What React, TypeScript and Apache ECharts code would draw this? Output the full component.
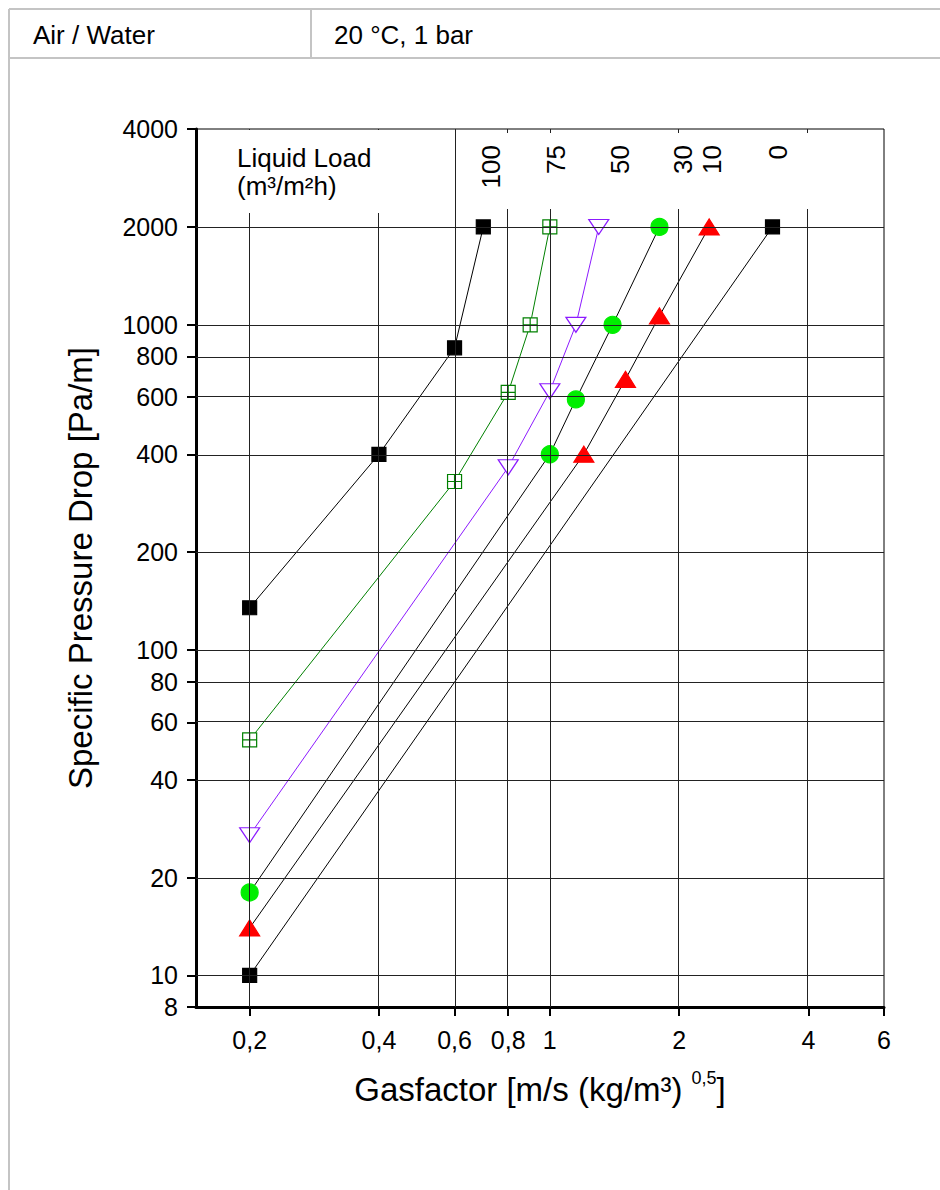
import React, { useEffect, useRef } from 'react';
import * as echarts from 'echarts';

// ---- axis ticks / ranges ----
const X_TICKS = [0.2, 0.4, 0.6, 0.8, 1, 2, 4, 6];
const Y_TICKS = [8, 10, 20, 40, 60, 80, 100, 200, 400, 600, 800, 1000, 2000, 4000];
const X_GRID = [0.2, 0.4, 0.6, 0.8, 1, 2, 4];
const Y_GRID = [10, 20, 40, 60, 80, 100, 200, 400, 600, 800, 1000, 2000];
const X_RANGE = [0.15, 6];
const Y_RANGE = [8, 4000];

// ---- series (liquid load in m³/m²h) ----
const LOADS = ['100', '75', '50', '30', '10', '0'];
const L100_X = [0.2, 0.4, 0.6, 0.7];
const L100_Y = [135, 400, 850, 2000];
const L75_X = [0.2, 0.6, 0.8, 0.9, 1.0];
const L75_Y = [53, 330, 620, 1000, 2000];
const L50_X = [0.2, 0.8, 1.0, 1.15, 1.3];
const L50_Y = [27, 365, 625, 1000, 2000];
const L30_X = [0.2, 1.0, 1.15, 1.4, 1.8];
const L30_Y = [18, 400, 590, 1000, 2000];
const L10_X = [0.2, 1.2, 1.5, 1.8, 2.35];
const L10_Y = [14, 400, 680, 1065, 2000];
const L0_X = [0.2, 3.3];
const L0_Y = [10, 2000];

const SERIES_X = [L100_X, L75_X, L50_X, L30_X, L10_X, L0_X];
const SERIES_Y = [L100_Y, L75_Y, L50_Y, L30_Y, L10_Y, L0_Y];

// ---- styling (not data) ----
const SANS = '"Liberation Sans", Arial, sans-serif';
const STYLES = [
  { line: '#000', symbol: 'rect', size: 14, fill: '#000', border: '#000', rotate: 0 },
  { line: '#008000', symbol: 'path://M0,0L10,0L10,10L0,10Z M5,0L5,10 M0,5L10,5', size: 14, fill: '#fff', border: '#008000', rotate: 0 },
  { line: '#8c1aff', symbol: 'triangle', size: [20, 15], fill: '#fff', border: '#8c1aff', rotate: 180 },
  { line: '#000', symbol: 'circle', size: 17, fill: '#00ee00', border: '#00ee00', rotate: 0 },
  { line: '#000', symbol: 'triangle', size: [20, 16], fill: '#ff0000', border: '#ff0000', rotate: 0 },
  { line: '#000', symbol: 'rect', size: 14, fill: '#000', border: '#000', rotate: 0 },
];
const LABEL_POS = [
  { x: 491, y: 145 },
  { x: 556, y: 145 },
  { x: 620, y: 145 },
  { x: 683, y: 145 },
  { x: 712, y: 145 },
  { x: 778, y: 145 },
];

const lg = (v: number) => Math.log10(v);
const fmt = (v: number) => {
  const r = Math.round(Math.pow(10, v) * 100) / 100;
  return String(r).replace('.', ',');
};

export default function App() {
  const ref = useRef<HTMLDivElement>(null);

  useEffect(() => {
    if (!ref.current) return;
    const chart = echarts.init(ref.current, undefined, { renderer: 'svg' });

    const dataSeries = SERIES_X.map((xs, i) => {
      const st = STYLES[i];
      return {
        name: LOADS[i],
        type: 'line',
        z: 3,
        data: xs.map((x, j) => [lg(x), lg(SERIES_Y[i][j])]),
        symbol: st.symbol,
        symbolSize: st.size,
        symbolRotate: st.rotate,
        showAllSymbol: true,
        lineStyle: { color: st.line, width: 1 },
        itemStyle: { color: st.fill, borderColor: st.border, borderWidth: 1.2 },
        emphasis: { disabled: true },
        silent: true,
      };
    });

    const gridSeries = {
      name: 'grid',
      type: 'line',
      z: 1,
      data: [],
      symbol: 'none',
      silent: true,
      markLine: {
        silent: true,
        symbol: ['none', 'none'],
        label: { show: false },
        lineStyle: { color: '#222', width: 1, type: 'solid' },
        emphasis: { disabled: true },
        data: [
          ...X_GRID.map((v) => ({ xAxis: lg(v) })),
          ...Y_GRID.map((v) => ({ yAxis: lg(v) })),
        ],
      },
    };

    const line = (x1: number, y1: number, x2: number, y2: number) => ({
      type: 'line',
      shape: { x1, y1, x2, y2 },
      style: { stroke: '#c4c4c4', lineWidth: 2 },
      z: 60,
    });

    const graphic: any[] = [
      line(9, 9, 940, 9),
      line(9, 9, 9, 1190),
      line(9, 58, 940, 58),
      line(311, 9, 311, 58),
      {
        type: 'text', x: 33, y: 35, z: 60,
        style: { text: 'Air / Water', font: `26px ${SANS}`, fill: '#000', align: 'left', verticalAlign: 'middle' },
      },
      {
        type: 'text', x: 334, y: 35, z: 60,
        style: { text: '20 °C, 1 bar', font: `26px ${SANS}`, fill: '#000', align: 'left', verticalAlign: 'middle' },
      },
      { type: 'rect', shape: { x: 198, y: 130, width: 255, height: 83 }, style: { fill: '#fff' }, z: 50 },
      { type: 'rect', shape: { x: 457, y: 133, width: 425, height: 76 }, style: { fill: '#fff' }, z: 50 },
      {
        type: 'text', x: 237, y: 144, z: 60,
        style: { text: 'Liquid Load\n(m³/m²h)', font: `26px ${SANS}`, lineHeight: 28, fill: '#000', align: 'left', verticalAlign: 'top' },
      },
      ...LOADS.map((t, i) => ({
        type: 'text', x: LABEL_POS[i].x, y: LABEL_POS[i].y, rotation: Math.PI / 2, z: 60,
        style: { text: t, font: `26px ${SANS}`, fill: '#000', align: 'right', verticalAlign: 'middle' },
      })),
    ];

    chart.setOption({
      animation: false,
      backgroundColor: '#fff',
      grid: { left: 196, right: 56, top: 129, bottom: 183, show: true, borderColor: '#000', borderWidth: 1, containLabel: false },
      xAxis: {
        type: 'value',
        min: lg(X_RANGE[0]),
        max: lg(X_RANGE[1]),
        name: '{a|Gasfactor [m/s (kg/m³) }{b|0,5}{a|]}',
        nameLocation: 'middle',
        nameGap: 62,
        nameTextStyle: {
          rich: {
            a: { fontSize: 33, fontFamily: SANS, color: '#000', lineHeight: 40 },
            b: { fontSize: 18, fontFamily: SANS, color: '#000', verticalAlign: 'top', lineHeight: 40 },
          },
        },
        axisLine: { onZero: false, lineStyle: { color: '#000', width: 3 } },
        axisTick: { show: true, customValues: X_TICKS.map(lg), length: 9, lineStyle: { color: '#000', width: 2 } },
        axisLabel: {
          customValues: X_TICKS.map(lg), formatter: fmt, margin: 20,
          fontSize: 25, fontFamily: SANS, color: '#000', hideOverlap: false,
        },
        splitLine: { show: false },
      },
      yAxis: {
        type: 'value',
        min: lg(Y_RANGE[0]),
        max: lg(Y_RANGE[1]),
        name: 'Specific Pressure Drop [Pa/m]',
        nameLocation: 'middle',
        nameRotate: 90,
        nameGap: 99,
        nameTextStyle: { fontSize: 33, fontFamily: SANS, color: '#000' },
        axisLine: { onZero: false, lineStyle: { color: '#000', width: 3 } },
        axisTick: { show: true, customValues: Y_TICKS.map(lg), length: 9, lineStyle: { color: '#000', width: 2 } },
        axisLabel: {
          customValues: Y_TICKS.map(lg), formatter: fmt, margin: 18,
          fontSize: 25, fontFamily: SANS, color: '#000', hideOverlap: false,
        },
        splitLine: { show: false },
      },
      series: [gridSeries, ...dataSeries],
      graphic,
    });

    return () => chart.dispose();
  }, []);

  return (
    <div style={{ position: 'fixed', left: 0, top: 0, width: 940, height: 1190, background: '#fff' }}>
      <div ref={ref} style={{ width: 940, height: 1190 }} />
    </div>
  );
}
